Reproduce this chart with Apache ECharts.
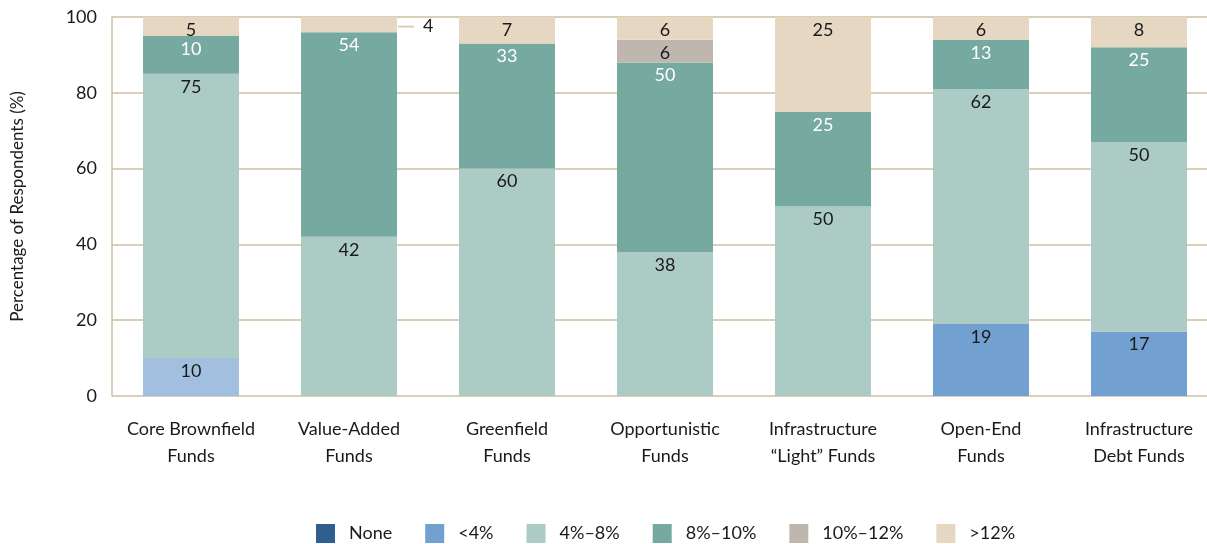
<!DOCTYPE html>
<html>
<head>
<meta charset="utf-8">
<script src="https://cdn.jsdelivr.net/npm/echarts@6/dist/echarts.min.js"></script>
<style>
  html, body { margin: 0; padding: 0; background: #fff; }
  #chart { width: 1207px; height: 544px; }
</style>
</head>
<body>
<div id="chart"></div>
<script>
// categories and values (percent of respondents)
const categories = ['Core Brownfield\nFunds', 'Value-Added\nFunds', 'Greenfield\nFunds', 'Opportunistic\nFunds',
  'Infrastructure\n\u201cLight\u201d Funds', 'Open-End\nFunds', 'Infrastructure\nDebt Funds'];
const seriesNames = ['None', '<4%', '4%\u20138%', '8%\u201310%', '10%\u201312%', '>12%'];
const noneVals = [0, 0, 0, 0, 0, 0, 0];
const lt4Vals = [10, 0, 0, 0, 0, 19, 17];
const p4to8Vals = [75, 42, 60, 38, 50, 62, 50];
const p8to10Vals = [10, 54, 33, 50, 25, 13, 25];
const p10to12Vals = [0, 0, 0, 6, 0, 0, 0];
const gt12Vals = [5, 4, 7, 6, 25, 6, 8];
const yTicks = [0, 20, 40, 60, 80, 100];

const colors = ['#2e5f8f', '#72a0d0', '#accbc5', '#76a99f', '#bfb7ad', '#e6d7c3'];
const FONT = 'Lato';

function mkLabel(color) {
  return {
    show: true,
    position: 'insideTop',
    distance: 4,
    color: color,
    fontFamily: FONT,
    fontSize: 18,
    formatter: p => (p.value ? p.value : '')
  };
}

function mkSeries(i, vals, labelColor) {
  return {
    name: seriesNames[i],
    type: 'bar',
    stack: 'total',
    barWidth: 96,
    itemStyle: { color: colors[i] },
    label: mkLabel(labelColor),
    data: vals.slice()
  };
}

const sLt4 = mkSeries(1, lt4Vals, '#1a1a1a');
// the core brownfield <4% segment is drawn lighter in the reference
sLt4.data[0] = { value: lt4Vals[0], itemStyle: { color: '#a3bfe0' } };

const sGt12 = mkSeries(5, gt12Vals, '#1a1a1a');
// value-added >12% label sits outside with a leader line
sGt12.data[1] = {
  value: gt12Vals[1],
  label: {
    position: 'right',
    distance: 1,
    offset: [0, 2],
    formatter: '{l|}{v|' + gt12Vals[1] + '}',
    rich: {
      l: { width: 16, height: 2, backgroundColor: '#d8cdbb' },
      v: { padding: [0, 0, 0, 9], fontSize: 18, fontFamily: FONT, color: '#1a1a1a' }
    }
  }
};

const option = {
  animation: false,
  grid: { left: 112, width: 1106, top: 17, bottom: 148, outerBoundsMode: 'none' },
  legend: {
    top: 519,
    left: 311,
    itemWidth: 19,
    itemHeight: 19,
    itemGap: 33,
    icon: 'rect',
    data: seriesNames,
    textStyle: { fontFamily: FONT, fontSize: 18, color: '#1a1a1a', padding: [0, 0, 0, 9] }
  },
  xAxis: {
    type: 'category',
    data: categories,
    axisLine: { show: false },
    axisTick: { show: false },
    axisLabel: { fontFamily: FONT, fontSize: 18, color: '#1a1a1a', lineHeight: 27, margin: 20, interval: 0 }
  },
  yAxis: {
    type: 'value',
    min: yTicks[0],
    max: yTicks[yTicks.length - 1],
    interval: 20,
    name: 'Percentage of Respondents (%)',
    nameLocation: 'middle',
    nameGap: 86,
    nameTextStyle: { fontFamily: FONT, fontSize: 17, color: '#1a1a1a' },
    axisLine: { show: true, lineStyle: { color: '#cdbf9f', width: 1.5 } },
    axisTick: { show: false },
    axisLabel: { fontFamily: FONT, fontSize: 18, color: '#1a1a1a', margin: 15 },
    splitLine: { lineStyle: { color: '#cdbf9f', width: 1.5 } }
  },
  series: [
    mkSeries(0, noneVals, '#ffffff'),
    sLt4,
    mkSeries(2, p4to8Vals, '#1a1a1a'),
    mkSeries(3, p8to10Vals, '#ffffff'),
    mkSeries(4, p10to12Vals, '#1a1a1a'),
    sGt12
  ]
};

echarts.init(document.getElementById('chart')).setOption(option);
</script>
</body>
</html>
